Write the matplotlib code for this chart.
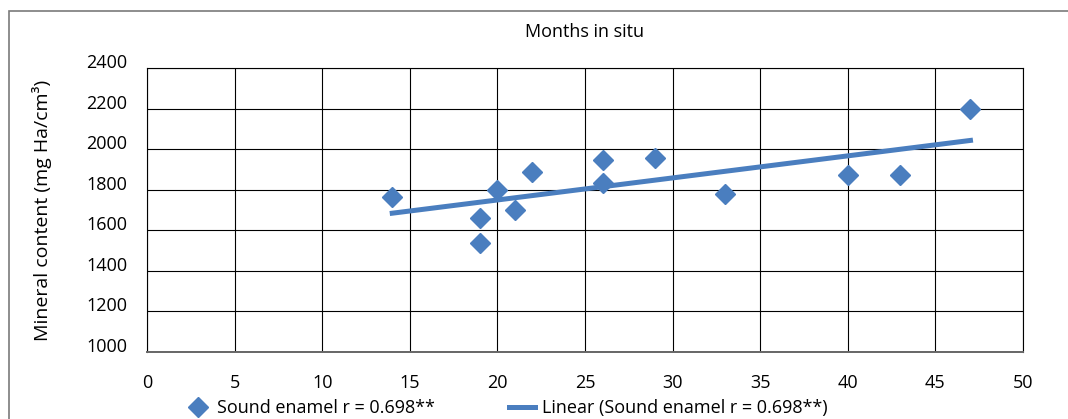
import matplotlib
matplotlib.use("Agg")
import matplotlib.pyplot as plt
import numpy as np
from matplotlib.patches import Rectangle

plt.rcParams["font.family"] = ["Open Sans", "DejaVu Sans"]

# data
months = [14, 19, 19, 20, 21, 22, 26, 26, 29, 33, 40, 43, 47]
mineral = [1762, 1660, 1538, 1800, 1700, 1888, 1948, 1835, 1958, 1780, 1875, 1875, 2200]
x_ticks = [0, 5, 10, 15, 20, 25, 30, 35, 40, 45, 50]
y_ticks = [1000, 1200, 1400, 1600, 1800, 2000, 2200, 2400]
label_points = "Sound enamel r = 0.698**"
label_trend = "Linear (Sound enamel r = 0.698**)"

BLUE = "#4A7EBF"
FS = 13

fig = plt.figure(figsize=(10.68, 4.19), dpi=100)
ax = fig.add_axes([0.1376, 0.1599, 0.8203, 0.6778])

# outer frame (runs off the right and bottom of the picture)
fig.patches.append(Rectangle((9 / 1068, -0.1), 1.2, 1 - 11 / 419 + 0.1,
                             transform=fig.transFigure, fill=False,
                             edgecolor="#7a7a7a", lw=1.2, clip_on=False))

ax.plot(months, mineral, ls="none", marker="D", ms=10, color=BLUE,
        label=label_points, zorder=3)

# linear trend line fitted to the points
slope, icpt = np.polyfit(months, mineral, 1)
xs = np.array([min(months), max(months)])
ax.plot(xs, slope * xs + icpt, color=BLUE, lw=3.6, label=label_trend, zorder=2)

ax.set_xlim(0, 50)
ax.set_ylim(1000, 2400)
ax.set_xticks(x_ticks)
ax.set_yticks(y_ticks)
ax.grid(True, color="black", lw=0.8)
ax.set_axisbelow(True)
for s in ax.spines.values():
    s.set_color("black")
    s.set_linewidth(0.8)
ax.spines["bottom"].set_color("#666666")
ax.spines["bottom"].set_linewidth(1.4)
ax.tick_params(length=0, labelsize=FS)
ax.tick_params(axis="x", pad=16)
ax.tick_params(axis="y", pad=14)
for t in ax.yaxis.get_major_ticks():
    t.label1.set_va("baseline")

ax.set_title("Months in situ", fontsize=FS, pad=22)
ax.set_ylabel("Mineral content (mg Ha/cm³)", fontsize=14)
ax.yaxis.set_label_coords(-0.108, 0.5)

fig.legend(loc="center", bbox_to_anchor=(0.474, 0.026), ncol=2, frameon=False,
           fontsize=FS, columnspacing=4.1, handlelength=1.4, handletextpad=0.4)

fig.savefig("out.png", dpi=100)
